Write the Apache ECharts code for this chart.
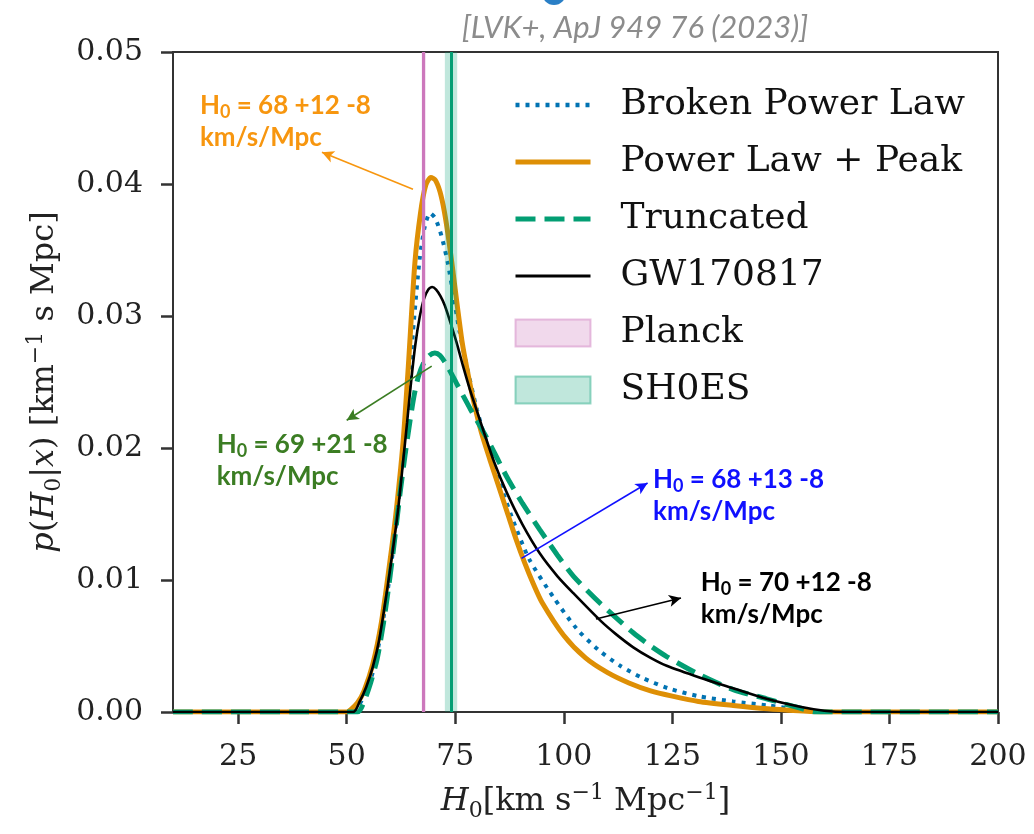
<!DOCTYPE html>
<html><head><meta charset="utf-8">
<script src="https://cdn.jsdelivr.net/npm/echarts@6/dist/echarts.min.js"></script>
<style>html,body{margin:0;padding:0;background:#fff}#c{width:1034px;height:834px}</style>
</head><body><div id="c"></div>
<script>
// ---- data (H0 [km/s/Mpc], p(H0|x)) ----
const xTicks = [25, 50, 75, 100, 125, 150, 175, 200];
const yTicks = [0, 0.01, 0.02, 0.03, 0.04, 0.05];

const brokenPowerLaw = [[10,0],[51,0],[52.5,0.0004],[54,0.0012],[56,0.003],[58,0.0062],[60,0.0105],[62,0.0162],[64,0.0235],[65.5,0.0297],[66.8,0.0343],[68,0.0368],[69.2,0.0378],[70.4,0.0374],[71.8,0.0361],[73.3,0.034],[74.6,0.0315],[76,0.0288],[77.8,0.026],[80,0.0229],[82.5,0.0201],[85,0.0176],[88,0.0148],[92,0.0116],[97.6,0.0087],[103,0.0063],[108,0.0047],[113,0.0035],[118,0.0026],[124,0.0018],[131,0.0012],[139,0.0008],[147,0.0005],[154,0.0002],[160,0],[200,0]];

const powerLawPeak = [[10,0],[50,0],[51,0.0002],[52.5,0.0007],[54,0.0016],[56,0.0036],[58,0.0068],[60,0.0115],[61.5,0.0155],[63,0.0205],[64.2,0.0262],[65.7,0.034],[67,0.0378],[68.2,0.0399],[69.4,0.0405],[70.4,0.0403],[71.5,0.0394],[72.5,0.0379],[73.5,0.0358],[74.5,0.0333],[75.5,0.0307],[76.6,0.028],[77.7,0.026],[79.2,0.0236],[81,0.0212],[83,0.0191],[85,0.0171],[87,0.0151],[89,0.0131],[91,0.0113],[93,0.0097],[95,0.0083],[100,0.0058],[105,0.0041],[110,0.003],[115,0.0022],[120,0.0016],[125,0.0012],[131,0.0008],[139,0.0005],[147,0.00025],[154,0.0001],[160,0],[200,0]];

const truncated = [[10,0],[52.5,0],[54,0.0008],[55.5,0.0022],[57,0.004],[58.5,0.0068],[60,0.0103],[61.2,0.0135],[62.3,0.0166],[63.5,0.0196],[64.6,0.0221],[65.6,0.0241],[66.6,0.0255],[67.8,0.0265],[69,0.027],[70.3,0.0272],[71.5,0.027],[73,0.0263],[75.3,0.0249],[78.4,0.023],[82.2,0.0208],[86.9,0.0178],[90.5,0.0158],[94.5,0.0138],[98.5,0.0119],[102.2,0.0103],[108.5,0.0082],[112.2,0.0071],[116,0.006],[120,0.005],[123.7,0.0042],[131.4,0.0028],[139,0.0017],[146.7,0.001],[151,0.0006],[154.4,0.0003],[158,0],[200,0]];

const gw170817 = [[10,0],[51.5,0],[53,0.0008],[54.5,0.0019],[56,0.0034],[57.5,0.0055],[59.2,0.009],[60.6,0.0122],[61.9,0.0155],[63,0.019],[63.9,0.0219],[64.8,0.0249],[65.8,0.0278],[66.8,0.0299],[67.8,0.0313],[68.8,0.032],[69.7,0.0322],[70.6,0.032],[71.6,0.0315],[72.6,0.0308],[73.9,0.0295],[75.3,0.028],[76.8,0.0262],[78.4,0.0244],[80,0.0228],[81.5,0.0213],[84,0.0189],[86.9,0.0166],[90.5,0.0142],[94.5,0.012],[98.5,0.0103],[102.2,0.009],[108.5,0.0069],[112,0.0059],[116,0.0049],[120,0.0041],[123.7,0.0035],[131.4,0.0026],[139,0.0018],[146.7,0.001],[154.4,0.0004],[160,0.0001],[165,0],[200,0]];

const planckH0 = [67.74, 0.46];   // centre, 1-sigma
const shoesH0 = [74.03, 1.42];

const seriesNames = ['Broken Power Law', 'Power Law + Peak', 'Truncated', 'GW170817', 'Planck', 'SH0ES'];

// annotation labels: value text, colour, text top-left (data), arrow start, arrow end (data)
const annotValues = ['68 +12 -8', '69 +21 -8', '68 +13 -8', '70 +12 -8'];
const annotColors = ['#f7960f', '#3b7d23', '#1010ff', '#000000'];
const annotTextAt = [[16.2, 0.04716], [20.06, 0.02148], [120.55, 0.01883], [131.56, 0.01102]];
const annotFrom = [[65.27, 0.0396], [69.58, 0.0262], [90.26, 0.01164], [107.4, 0.00705]];
const annotTo = [[44.3, 0.0424], [50.0, 0.0221], [119.3, 0.01735], [127.0, 0.00864]];

const citation = '[LVK+, ApJ 949 76 (2023)]';

// ---- chart ----
const chart = echarts.init(document.getElementById('c'), null, {renderer: 'canvas'});
const serif = 'DejaVu Serif';
const axisColor = '#333';

const lineSeries = (name, data, color, width, type, z) => ({
  name, type: 'line', data, showSymbol: false, symbol: 'none', smooth: 0.25,
  lineStyle: {color, width, type}, itemStyle: {color}, z, silent: true,
  emphasis: {disabled: true}
});

const bandSeries = (name, val, fill, lineColor) => ({
  name, type: 'line', data: [], symbol: 'none', silent: true, itemStyle: {color: fill},
  markArea: {silent: true, z: 6, itemStyle: {color: fill}, label: {show: false},
    data: [[{xAxis: val[0] - val[1]}, {xAxis: val[0] + val[1]}]]},
  markLine: {silent: true, z: 7, symbol: ['none', 'none'], label: {show: false},
    lineStyle: {color: lineColor, width: 3, type: 'solid'}, emphasis: {disabled: true},
    data: [{xAxis: val[0]}]}
});

const hiddenMarker = {color: 'rgba(0,0,0,0)', borderWidth: 0, opacity: 0};

const nameRich = {
  i: {fontFamily: serif, fontStyle: 'italic', fontSize: 32, color: '#222', lineHeight: 40},
  n: {fontFamily: serif, fontSize: 32, color: '#222', lineHeight: 40},
  s: {fontFamily: serif, fontSize: 22, color: '#222', verticalAlign: 'bottom', lineHeight: 22},
  p: {fontFamily: serif, fontSize: 22, color: '#222', verticalAlign: 'top', lineHeight: 22}
};

const option = {
  animation: false,
  backgroundColor: '#fff',
  grid: {left: 173, right: 36, top: 52, bottom: 122, show: true, borderColor: axisColor, borderWidth: 2, backgroundColor: 'transparent'},
  xAxis: {
    type: 'value', min: 10, max: 200,
    axisLine: {show: true, onZero: false, lineStyle: {color: axisColor, width: 2}},
    axisTick: {show: true, inside: false, length: 12, customValues: xTicks, lineStyle: {color: axisColor, width: 2.5}},
    axisLabel: {customValues: xTicks, fontFamily: serif, fontSize: 30, color: '#222', margin: 30},
    splitLine: {show: false},
    name: '{i|H}{s|0}{n|[km s}{p|−1}{n| Mpc}{p|−1}{n|]}',
    nameLocation: 'middle', nameGap: 70,
    nameTextStyle: {fontFamily: serif, fontSize: 32, color: '#222', rich: nameRich}
  },
  yAxis: {
    type: 'value', min: 0, max: 0.05, interval: 0.01,
    axisLine: {show: true, lineStyle: {color: axisColor, width: 2}},
    axisTick: {show: true, inside: false, length: 12, lineStyle: {color: axisColor, width: 2.5}},
    axisLabel: {fontFamily: serif, fontSize: 30, color: '#222', margin: 30, formatter: v => v.toFixed(2)},
    splitLine: {show: false},
    name: '{i|p}{n|(}{i|H}{s|0}{n||}{i|x}{n|) [km}{p|−1}{n| s Mpc]}',
    nameLocation: 'middle', nameGap: 108, nameRotate: 90,
    nameTextStyle: {fontFamily: serif, fontSize: 32, color: '#222', rich: nameRich}
  },
  legend: {
    orient: 'vertical', left: 513, top: 87, padding: 0, itemWidth: 75, itemHeight: 27, itemGap: 21,
    selectedMode: false,
    formatter: n => '{g|}' + n,
    textStyle: {fontFamily: serif, fontSize: 36, color: '#111', rich: {g: {width: 25}}},
    data: [
      {name: seriesNames[0], lineStyle: {width: 4.5}, itemStyle: hiddenMarker},
      {name: seriesNames[1], lineStyle: {width: 5}, itemStyle: hiddenMarker},
      {name: seriesNames[2], lineStyle: {width: 5}, itemStyle: hiddenMarker},
      {name: seriesNames[3], lineStyle: {width: 3}, itemStyle: hiddenMarker},
      {name: seriesNames[4], icon: 'rect', itemStyle: {color: 'rgba(204,120,188,0.28)', borderColor: 'rgba(204,120,188,0.45)', borderWidth: 2}},
      {name: seriesNames[5], icon: 'rect', itemStyle: {color: 'rgba(2,158,115,0.25)', borderColor: 'rgba(2,158,115,0.4)', borderWidth: 2}}
    ]
  },
  series: [
    lineSeries(seriesNames[0], brokenPowerLaw, '#0173b2', 4, [4, 6], 2),
    lineSeries(seriesNames[1], powerLawPeak, '#de8f05', 5, 'solid', 2),
    lineSeries(seriesNames[2], truncated, '#029e73', 5, [20, 9], 2),
    lineSeries(seriesNames[3], gw170817, '#000000', 2.6, 'solid', 2),
    bandSeries(seriesNames[4], planckH0, 'rgba(204,120,188,0.3)', '#cc78bc'),
    bandSeries(seriesNames[5], shoesH0, 'rgba(2,158,115,0.25)', '#029e73'),
    {
      name: 'annotations', type: 'line', data: [], symbol: 'none', silent: true,
      markLine: {
        silent: true, z: 8, symbol: ['none', 'arrow'], symbolSize: [9, 12], label: {show: false},
        emphasis: {disabled: true},
        data: annotFrom.map((f, i) => [
          {coord: f, lineStyle: {color: annotColors[i], width: 1.6, type: 'solid'}, itemStyle: {color: annotColors[i]}},
          {coord: annotTo[i]}
        ])
      }
    }
  ]
};
chart.setOption(option);

// annotation texts positioned from data coordinates
const graphics = annotValues.map((v, i) => {
  const p = chart.convertToPixel({gridIndex: 0}, annotTextAt[i]);
  const c = annotColors[i];
  const base = {fontFamily: 'Lato', fontWeight: 'bold', fill: c};
  return {
    type: 'text', x: p[0], y: p[1], z: 20, silent: true,
    style: {
      text: '{h|H}{s|0}{t| = ' + v + '}\n{t|km/s/Mpc}',
      verticalAlign: 'top', align: 'left',
      rich: {
        h: Object.assign({fontSize: 26, lineHeight: 32}, base),
        t: Object.assign({fontSize: 26, lineHeight: 32}, base),
        s: Object.assign({fontSize: 18, lineHeight: 16, verticalAlign: 'bottom'}, base)
      }
    }
  };
});
graphics.push({
  type: 'text', x: 635, y: 28, silent: true,
  style: {text: citation, fontFamily: 'Lato', fontStyle: 'italic', fontWeight: 'normal', fontSize: 31, fill: '#8c8c8c', align: 'center', verticalAlign: 'middle'}
});
graphics.push({type: 'circle', shape: {cx: 554, cy: -7, r: 12}, style: {fill: '#2a7fc6'}, silent: true});
chart.setOption({graphic: graphics});
</script>
</body></html>
